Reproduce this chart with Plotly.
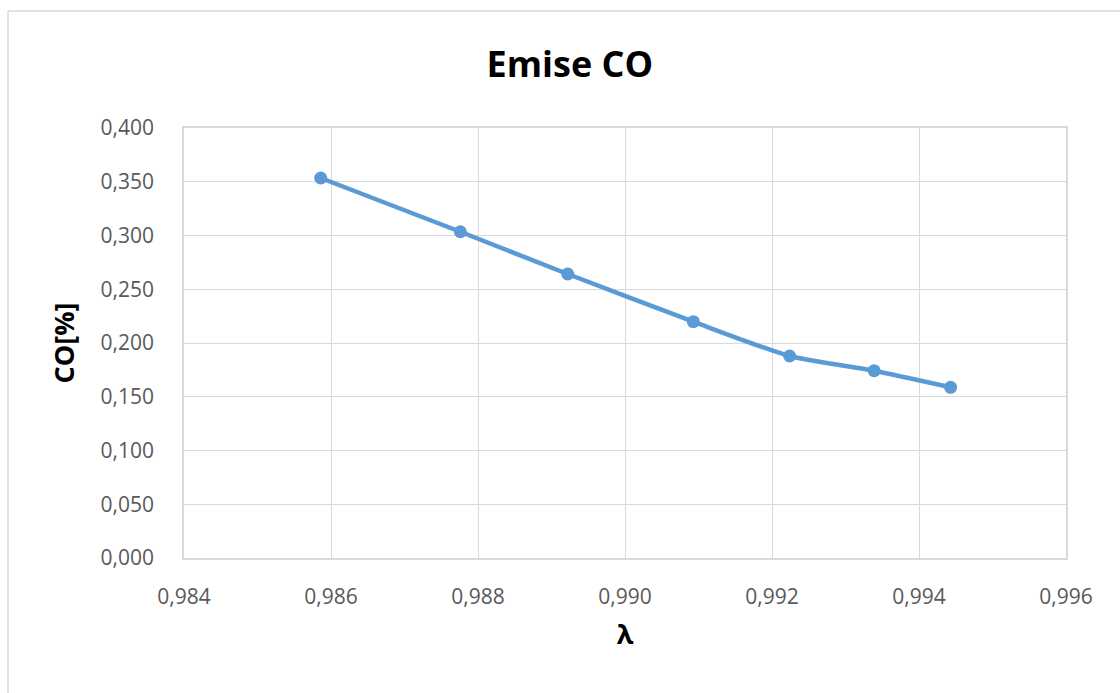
import plotly.graph_objects as go

# Lambda (air excess ratio) vs. CO emission
lambda_vals = [0.98586, 0.98776, 0.98922, 0.99093, 0.99224, 0.99339, 0.99443]
co_pct = [0.3535, 0.3035, 0.2642, 0.2198, 0.1879, 0.1742, 0.1588]

x_ticks = [0.984, 0.986, 0.988, 0.990, 0.992, 0.994, 0.996]
x_tick_text = ["0,984", "0,986", "0,988", "0,990", "0,992", "0,994", "0,996"]
y_ticks = [0.0, 0.05, 0.10, 0.15, 0.20, 0.25, 0.30, 0.35, 0.40]
y_tick_text = ["0,000", "0,050", "0,100", "0,150", "0,200", "0,250", "0,300", "0,350", "0,400"]

line_color = "#5B9BD5"
grid_color = "#D9D9D9"
tick_font = dict(family="Open Sans, DejaVu Sans, sans-serif", size=21, color="#595959")
title_font_family = "Open Sans, sans-serif"

fig = go.Figure(
    go.Scatter(
        x=lambda_vals,
        y=co_pct,
        mode="lines+markers",
        line=dict(color=line_color, width=4.5, shape="spline", smoothing=0.6),
        marker=dict(color=line_color, size=13),
        showlegend=False,
    )
)

fig.update_layout(
    width=1120,
    height=693,
    margin=dict(l=184, r=54, t=128, b=135),
    paper_bgcolor="white",
    plot_bgcolor="white",
    title=dict(
        text="<b>Emise CO</b>",
        x=0.5088,
        xanchor="center",
        y=1 - 64 / 693,
        yanchor="middle",
        font=dict(family=title_font_family, size=36, color="#000000"),
    ),
    xaxis=dict(
        range=[0.984, 0.996],
        tickvals=x_ticks,
        ticktext=x_tick_text,
        tickfont=tick_font,
        ticklabelstandoff=19,
        showgrid=True,
        gridcolor=grid_color,
        gridwidth=1,
        showline=True,
        linecolor=grid_color,
        linewidth=1.5,
        mirror=True,
        zeroline=False,
        ticks="",
        title=dict(
            text="<b>λ</b>",
            font=dict(family=title_font_family, size=27, color="#000000"),
            standoff=16,
        ),
    ),
    yaxis=dict(
        range=[0, 0.4],
        tickvals=y_ticks,
        ticktext=y_tick_text,
        tickfont=tick_font,
        ticklabelstandoff=24,
        showgrid=True,
        gridcolor=grid_color,
        gridwidth=1,
        showline=True,
        linecolor=grid_color,
        linewidth=1.5,
        mirror=True,
        zeroline=False,
        ticks="",
        title=dict(
            text="<b>CO[%]</b>",
            font=dict(family=title_font_family, size=27, color="#000000"),
            standoff=18,
        ),
    ),
)

# Outer chart frame (left and top edges visible)
plot_w = 1120 - 184 - 54
plot_h = 693 - 128 - 135
x_left = (8 - 184) / plot_w
y_top = 1 + (128 - 11) / plot_h
fig.add_shape(type="line", xref="paper", yref="paper",
              x0=x_left, x1=x_left, y0=-1, y1=y_top,
              line=dict(color="#D9D9D9", width=1.5))
fig.add_shape(type="line", xref="paper", yref="paper",
              x0=x_left, x1=2, y0=y_top, y1=y_top,
              line=dict(color="#D9D9D9", width=1.5))

fig.write_html("out.html")
